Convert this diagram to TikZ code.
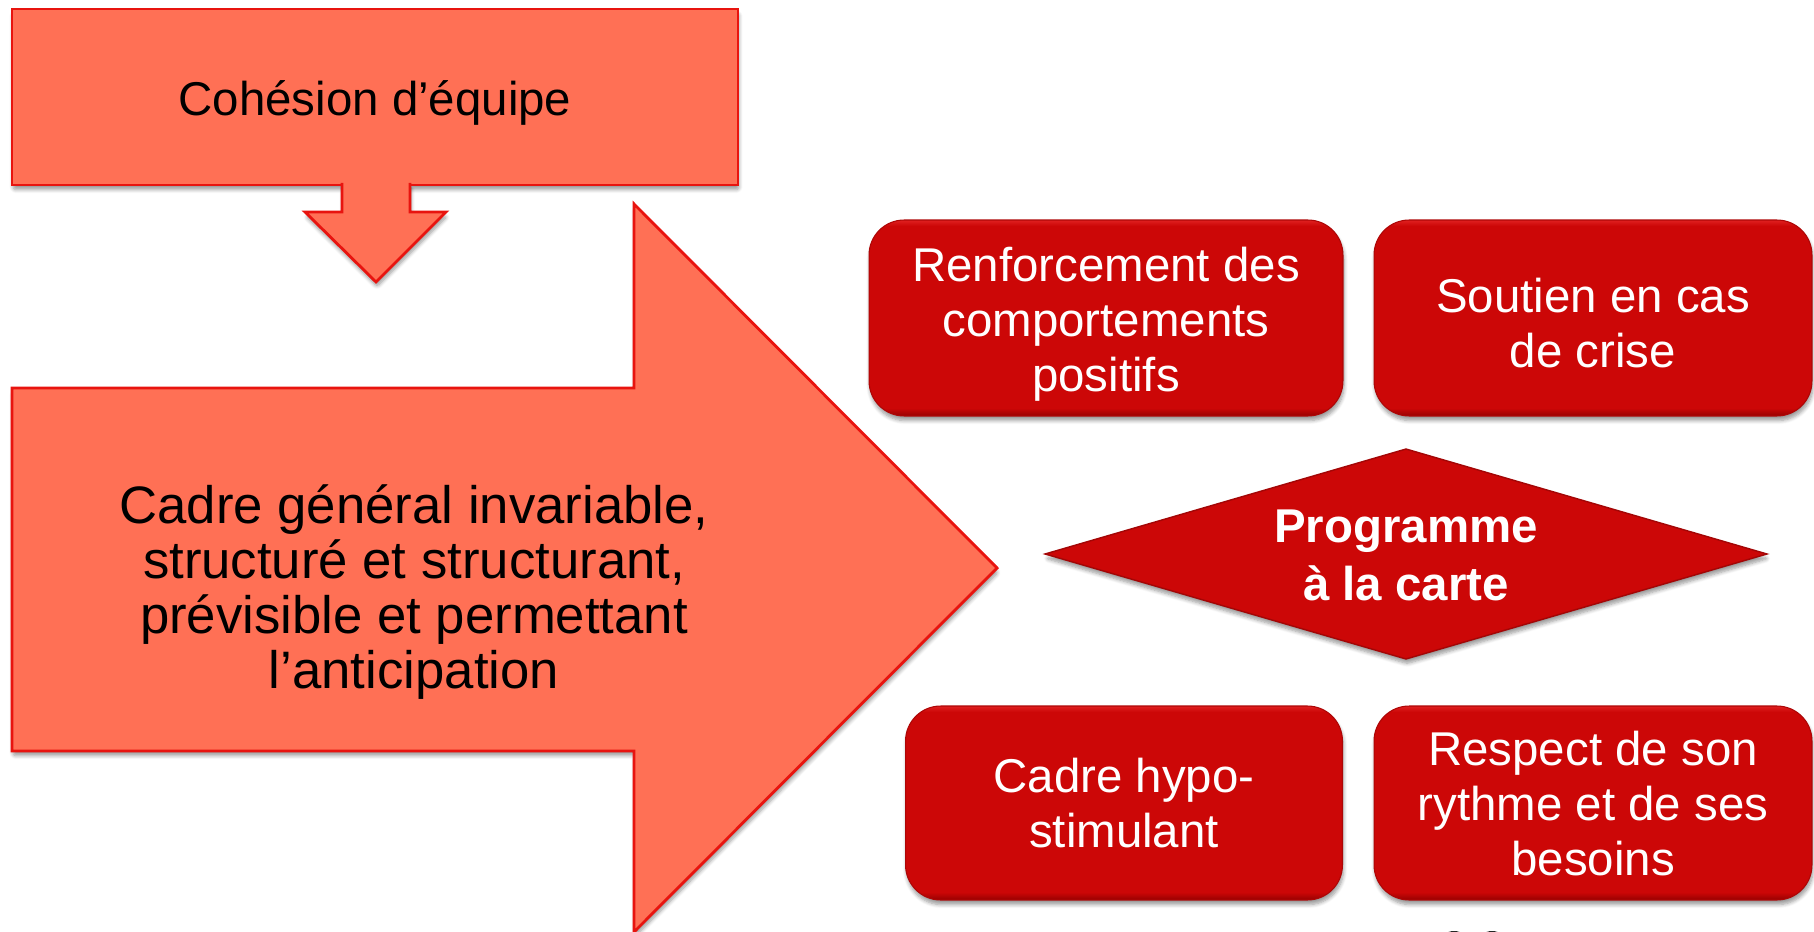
\documentclass[tikz,border=0pt]{standalone}
\usepackage{fontspec}
\setmainfont{Liberation Sans}
\usetikzlibrary{shadows,shadows.blur}
\definecolor{salmon}{HTML}{FF7055}
\definecolor{salmonedge}{HTML}{E8140F}
\definecolor{boxred}{HTML}{CC0707}
\definecolor{boxdark}{HTML}{960000}
\definecolor{boxlight}{HTML}{E02020}
\pgfdeclareverticalshading{boxbevel}{100bp}{color(0bp)=(boxdark); color(25bp)=(boxdark); color(27bp)=(boxred); color(73.5bp)=(boxred); color(75bp)=(boxlight); color(100bp)=(boxlight)}
\begin{document}
\begin{tikzpicture}[x=0.02cm,y=-0.02cm,
  softshadow/.style={blur shadow={shadow xshift=0.6pt, shadow yshift=-2.6pt, shadow blur steps=6, shadow blur extra rounding=1.5pt, shadow opacity=40}},
  arrowshape/.style={fill=salmon, draw=salmonedge, line width=1.6pt, line join=miter, softshadow},
  topbox/.style={rectangle, fill=salmon, draw=salmonedge, line width=1.6pt, inner sep=0pt, softshadow},
  plaintext/.style={align=center, text=black, inner sep=0pt, font=\fontsize{27}{31.3}\selectfont},
  bigtext/.style={align=center, text=black, inner sep=0pt, font=\fontsize{30}{31.3}\selectfont},
  redbox/.style={rectangle, rounded corners=0.7cm, shading=boxbevel, draw=boxred!85!black, line width=0.6pt,
    inner sep=0pt, softshadow},
  boxtext/.style={text=white, align=center, inner sep=0pt, font=\fontsize{27}{31.3}\selectfont},
  diamondshape/.style={fill=boxred, draw=boxred!80!black, line width=0.8pt, line join=miter, softshadow},
  progtext/.style={align=center, text=white, inner sep=0pt, font=\bfseries\fontsize{27}{33}\selectfont}
]
\useasboundingbox (0,0) rectangle (1814,932);
% top box
\node[topbox, minimum width=14.52cm, minimum height=3.52cm] (cohesion) at (375,97) {};
\node[plaintext] (cohesiontext) at (375,103) {Cohésion d’équipe};
% small down arrow
\path[arrowshape] (342,183) -- (342,212) -- (305,212) -- (376,282) -- (446,212) -- (410,212) -- (410,183);
% big right arrow
\path[arrowshape] (12,388) -- (634,388) -- (634,204) -- (997,568) -- (634,932) -- (634,751) -- (12,751) -- cycle;
\node[bigtext] (cadre) at (414,592) {Cadre général invariable,\\structuré et structurant,\\prévisible et permettant\\l’anticipation};
% red boxes
\node[redbox, minimum width=9.48cm, minimum height=3.92cm] (renf) at (1106,318) {};
\node[boxtext] (renftext) at (1106,324) {Renforcement des\\comportements\\positifs};
\node[redbox, minimum width=8.76cm, minimum height=3.92cm] (soutien) at (1593,318) {};
\node[boxtext] (soutientext) at (1593,323) {Soutien en cas\\de crise};
\node[redbox, minimum width=8.74cm, minimum height=3.88cm] (hypo) at (1124,803) {};
\node[boxtext] (hypotext) at (1124,803) {Cadre hypo-\\stimulant};
\node[redbox, minimum width=8.76cm, minimum height=3.88cm] (respect) at (1593,803) {};
\node[boxtext] (respecttext) at (1593,804) {Respect de son\\rythme et de ses\\besoins};
% diamond
\path[diamondshape] (1045,554) -- (1406,449) -- (1767,554) -- (1406,659) -- cycle;
\node[progtext] (prog) at (1406,555) {Programme\\à la carte};
% cut-off fragment at bottom edge
\fill[black!85] (1454,943) ellipse (14 and 12);
\fill[black!85] (1492,943) ellipse (14 and 12);
\fill[white] (1454,943) ellipse (10 and 9);
\fill[white] (1492,943) ellipse (10 and 9);
\end{tikzpicture}
\end{document}
